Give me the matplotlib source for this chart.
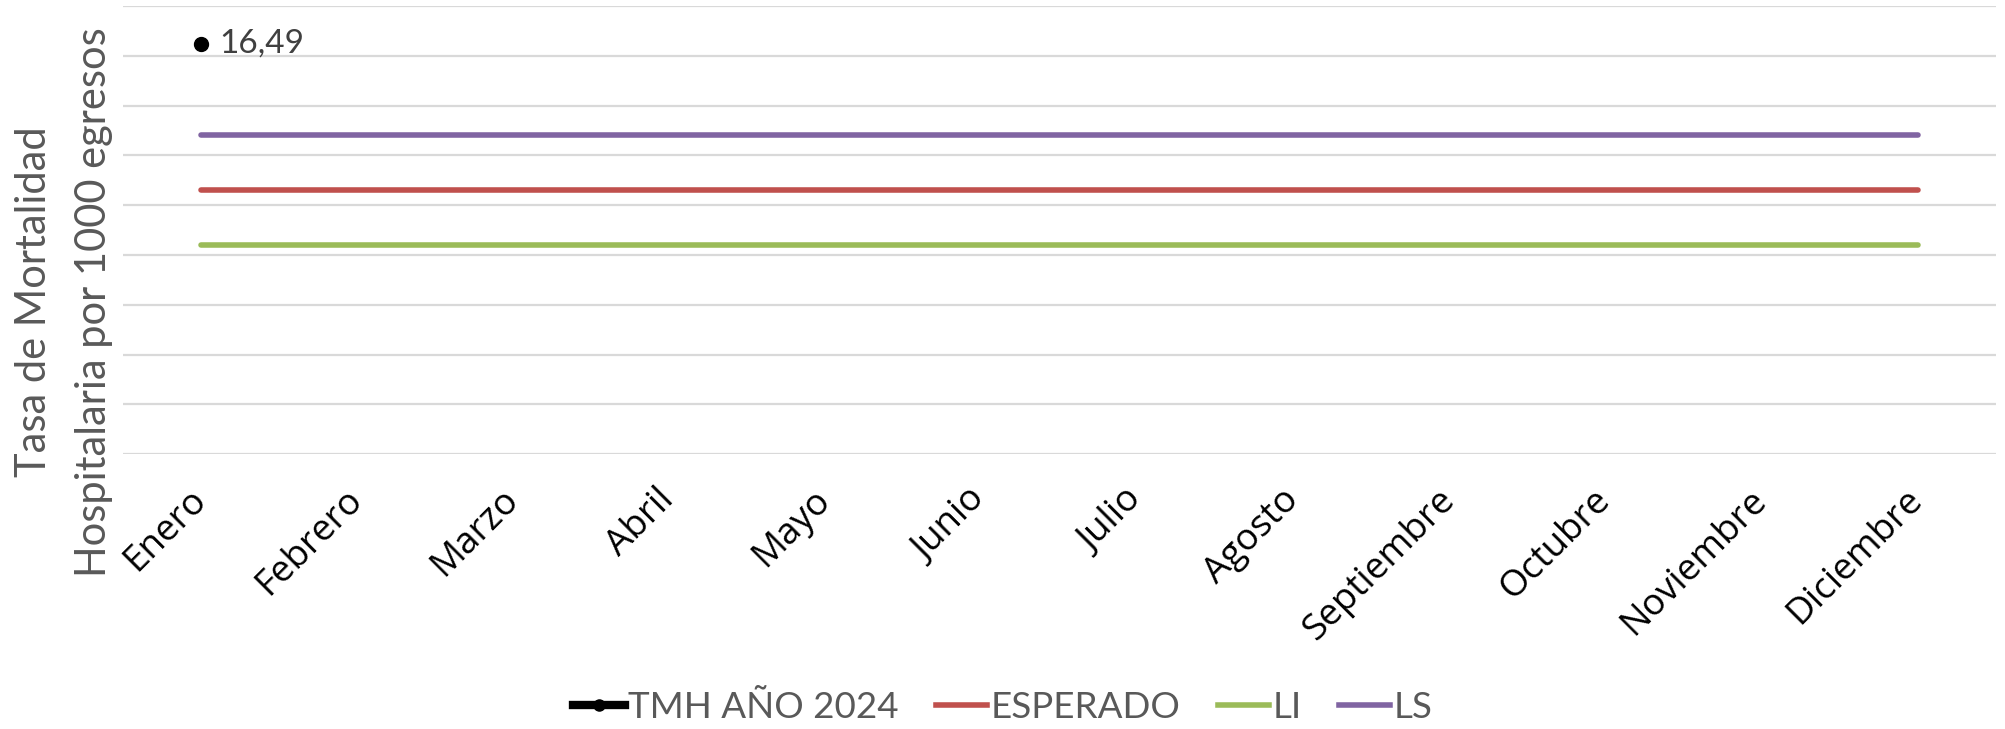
import matplotlib
matplotlib.use("Agg")
import matplotlib.pyplot as plt
import matplotlib.transforms as mtransforms
from matplotlib.lines import Line2D

months = ["Enero", "Febrero", "Marzo", "Abril", "Mayo", "Junio", "Julio",
          "Agosto", "Septiembre", "Octubre", "Noviembre", "Diciembre"]
tmh_2024 = [16.49] + [None] * 11
esperado = [10.61] * 12
li = [8.39] * 12
ls = [12.84] * 12
y_ticks = [0, 2, 4, 6, 8, 10, 12, 14, 16, 18]

W, H = 2006, 729
fig = plt.figure(figsize=(W / 100, H / 100), dpi=100)
ax = fig.add_axes([123 / W, 1 - 454.3 / H, (1996 - 123) / W, (454.3 - 6) / H])

x = list(range(len(months)))
c_esp, c_li, c_ls = "#c0504d", "#9bbb59", "#8064a2"
lw = 4.0
ax.plot(x, esperado, color=c_esp, lw=lw, solid_capstyle="round", zorder=3)
ax.plot(x, li, color=c_li, lw=lw, solid_capstyle="round", zorder=3)
ax.plot(x, ls, color=c_ls, lw=lw, solid_capstyle="round", zorder=3)
tx = [i for i, v in enumerate(tmh_2024) if v is not None]
ty = [v for v in tmh_2024 if v is not None]
ax.plot(tx, ty, color="black", lw=lw, marker="o", markersize=10, zorder=4)
for xi, yi in zip(tx, ty):
    ax.annotate(f"{yi:.2f}".replace(".", ","), (xi, yi), xytext=(13, 0),
                textcoords="offset points", ha="left", va="center",
                fontsize=24, color="#404040", family="Lato")

ax.set_xlim(-0.5, 11.5)
ax.set_ylim(0, 18)
ax.set_yticks(y_ticks)
ax.set_yticklabels([])
ax.tick_params(axis="y", length=0)
ax.tick_params(axis="x", length=0, pad=20)
ax.grid(axis="y", color="#d9d9d9", lw=1.6)
ax.set_axisbelow(True)
for s in ax.spines.values():
    s.set_visible(False)
ax.set_xticks(x)
ax.set_xticklabels(months, rotation=45, ha="right", rotation_mode="anchor",
                   fontsize=26.5, family="Open Sans", color="black")
shift = mtransforms.ScaledTranslation(-13 / 100, 0, fig.dpi_scale_trans)
for lab in ax.get_xticklabels():
    lab.set_transform(lab.get_transform() + shift)

fig.text(34 / W, 1 - 302 / H, "Tasa de Mortalidad", rotation=90, ha="center",
         va="center", fontsize=30, family="Lato", color="#595959")
fig.text(94 / W, 1 - 302 / H, "Hospitalaria por 1000 egresos", rotation=90,
         ha="center", va="center", fontsize=30, family="Lato", color="#595959")

handles = [
    Line2D([], [], color="black", lw=6, marker="o", markersize=8),
    Line2D([], [], color=c_esp, lw=lw),
    Line2D([], [], color=c_li, lw=lw),
    Line2D([], [], color=c_ls, lw=lw),
]
labels = ["TMH AÑO 2024", "ESPERADO", "LI", "LS"]
fig.legend(handles, labels, loc="center", bbox_to_anchor=(0.5, 1 - 707 / H),
           ncol=4, frameon=False, handlelength=1.4, handletextpad=0.1,
           columnspacing=1.0, prop={"family": "Lato", "size": 26.5},
           labelcolor="#595959")

fig.savefig("out.png", dpi=100)
